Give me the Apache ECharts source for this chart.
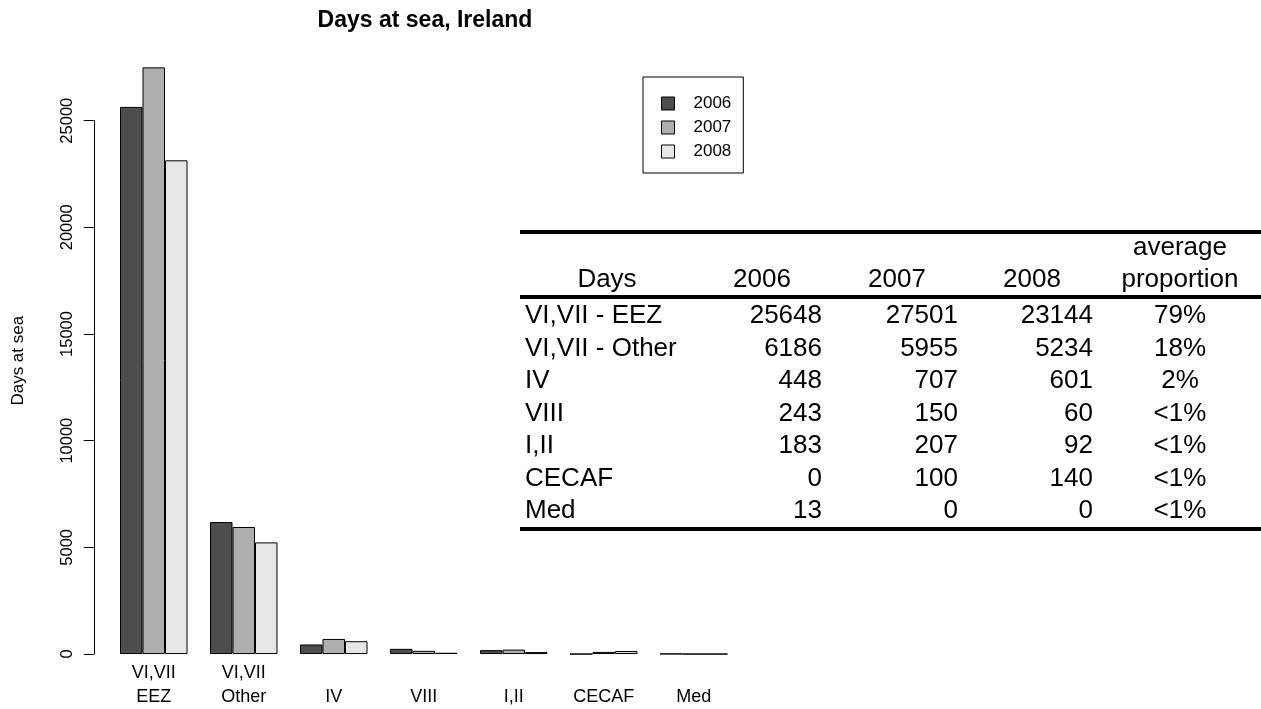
<!DOCTYPE html>
<html>
<head>
<meta charset="utf-8">
<script src="https://cdn.jsdelivr.net/npm/echarts@6/dist/echarts.min.js"></script>
<style>
  html, body { margin: 0; padding: 0; background: #fff; }
  #chart { width: 1261px; height: 709px; }
</style>
</head>
<body>
<div id="chart"></div>
<script>
// ---- data ----
const categories = ['VI,VII\nEEZ', 'VI,VII\nOther', 'IV', 'VIII', 'I,II', 'CECAF', 'Med'];
const years = ['2006', '2007', '2008'];
const days2006 = [25648, 6186, 448, 243, 183, 0, 13];
const days2007 = [27501, 5955, 707, 150, 207, 100, 0];
const days2008 = [23144, 5234, 601, 60, 92, 140, 0];
const tableRows = ['VI,VII - EEZ', 'VI,VII - Other', 'IV', 'VIII', 'I,II', 'CECAF', 'Med'];
const proportions = ['79%', '18%', '2%', '<1%', '<1%', '<1%', '<1%'];
const yTicks = [0, 5000, 10000, 15000, 20000, 25000];

// ---- style / layout ----
const FONT = "'Liberation Sans', Arial, Helvetica, sans-serif";
const barColors = ['#4D4D4D', '#AEAEAE', '#E6E6E6'];
const seriesData = [days2006, days2007, days2008];

const chart = echarts.init(document.getElementById('chart'), null, { renderer: 'canvas' });

// table graphic built from the data arrays
const T = {
  x0: 520, x1: 1261, topY: 232, midY: 297, botY: 529,
  headY1: 248, headY2: 280, row0: 316, rowH: 32.5,
  labelX: 525, daysX: 607, numRight: [822, 958, 1093], headC: [762, 897, 1032],
  propX: 1180, fs: 26
};
function txt(text, x, y, align) {
  return {
    type: 'text', x: x, y: y, silent: true,
    style: { text: text, fontSize: T.fs, fontFamily: FONT, fill: '#000', align: align, textAlign: align, verticalAlign: 'middle', textVerticalAlign: 'middle' }
  };
}
const graphics = [];
graphics.push({ type: 'text', x: 425, y: 21, silent: true,
  style: { text: 'Days at sea, Ireland', fontSize: 23, fontWeight: 'bold', fontFamily: FONT, fill: '#000', align: 'center', textAlign: 'center', verticalAlign: 'middle', textVerticalAlign: 'middle' } });
[T.topY, T.midY, T.botY].forEach(function (y) {
  graphics.push({ type: 'line', silent: true, shape: { x1: T.x0, y1: y, x2: T.x1, y2: y }, style: { stroke: '#000', lineWidth: 4 } });
});
graphics.push(txt('Days', T.daysX, T.headY2, 'center'));
years.forEach(function (yr, j) { graphics.push(txt(yr, T.headC[j], T.headY2, 'center')); });
graphics.push(txt('average', T.propX, T.headY1, 'center'));
graphics.push(txt('proportion', T.propX, T.headY2, 'center'));
tableRows.forEach(function (r, i) {
  const y = T.row0 + i * T.rowH;
  graphics.push(txt(r, T.labelX, y, 'left'));
  seriesData.forEach(function (arr, j) { graphics.push(txt(String(arr[i]), T.numRight[j], y, 'right')); });
  graphics.push(txt(proportions[i], T.propX, y, 'center'));
});

const gridLeft = 108.75, gridWidth = 630, axisX = 93.75;
const option = {
  animation: false,
  backgroundColor: '#fff',
  textStyle: { fontFamily: FONT, color: '#000' },
  grid: [
    { left: gridLeft, width: gridWidth, top: 43.9, height: 633.6, containLabel: false, outerBoundsMode: 'none' },
    { left: axisX, width: gridWidth, top: 120.7, height: 533.3, containLabel: false, outerBoundsMode: 'none' }
  ],
  xAxis: [
    {
      type: 'category', gridIndex: 0, data: categories,
      axisLine: { show: false }, axisTick: { show: false }, splitLine: { show: false },
      axisLabel: { interval: 0, fontSize: 18, color: '#000', fontFamily: FONT, verticalAlign: 'bottom', lineHeight: 24, margin: 31.5 }
    },
    { type: 'value', gridIndex: 1, show: false, min: 0, max: 1 }
  ],
  yAxis: [
    {
      type: 'value', gridIndex: 0, min: -1100.04, max: 28601.04, offset: 15,
      axisLine: { show: false }, axisTick: { show: false }, axisLabel: { show: false }, splitLine: { show: false },
      name: 'Days at sea', nameLocation: 'middle', nameRotate: 90, nameGap: 67,
      nameTextStyle: { fontSize: 17, color: '#000', fontFamily: FONT }
    },
    {
      type: 'value', gridIndex: 1, min: yTicks[0], max: yTicks[yTicks.length - 1], interval: 5000,
      axisLine: { show: true, lineStyle: { color: '#000', width: 1 } },
      axisTick: { show: true, length: 10, lineStyle: { color: '#000', width: 1 } },
      axisLabel: { rotate: 90, fontSize: 16.5, color: '#000', fontFamily: FONT, margin: 18,
        formatter: function (v) { return String(v); } },
      splitLine: { show: false }
    }
  ],
  legend: {
    data: years, orient: 'vertical', left: 643, top: 77,
    padding: [18, 12, 13, 18], itemWidth: 13, itemHeight: 13, itemGap: 7,
    borderColor: '#000', borderWidth: 1, icon: 'rect',
    itemStyle: { borderColor: '#000', borderWidth: 1 },
    textStyle: { fontSize: 17, color: '#000', fontFamily: FONT, lineHeight: 16, padding: [0, 0, 0, 14] },
    selectedMode: false
  },
  series: years.map(function (yr, j) {
    return {
      name: yr, type: 'bar', xAxisIndex: 0, yAxisIndex: 0,
      data: seriesData[j], barWidth: 22.5, barGap: '0%',
      itemStyle: { color: barColors[j], borderColor: '#000', borderWidth: 1 },
      emphasis: { disabled: true }
    };
  }),
  graphic: graphics
};
chart.setOption(option);
</script>
</body>
</html>
